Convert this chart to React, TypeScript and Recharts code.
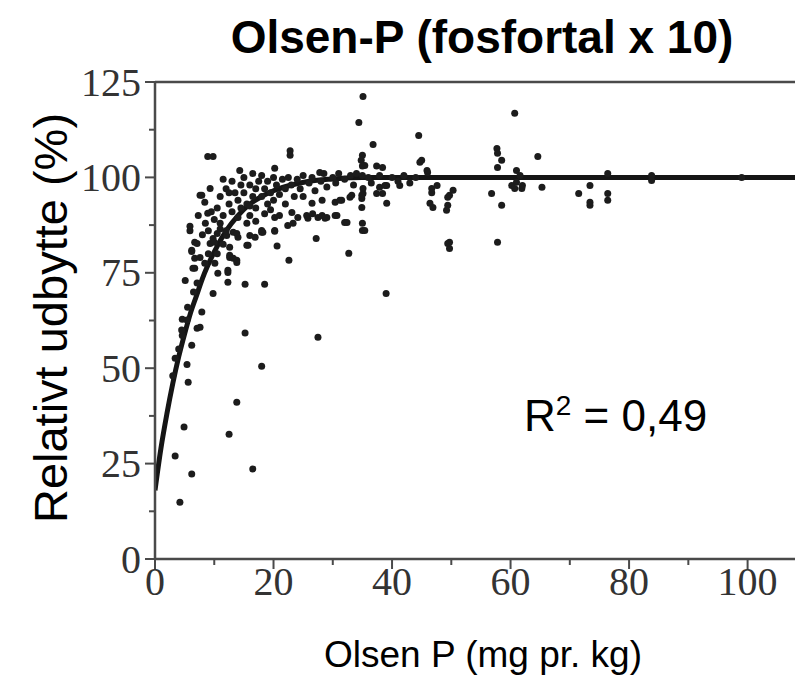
import { ComposedChart, Scatter, Line, XAxis, YAxis, ReferenceLine } from "recharts";

// fitted curve
const curveX = [0, 1, 2, 3, 4, 5, 6, 7, 8, 10, 12, 14, 16, 18, 20, 23, 26, 30, 35, 40, 60, 80, 108];
const curveY = [18, 29, 38, 46, 53, 59, 64.5, 69, 73.5, 80.5, 86, 90, 93, 95, 96.5, 98, 99, 99.6, 100, 100, 100, 100, 100];

// scatter points [Olsen P, relative yield]
const lowPts = [
  [4.2, 14.9], [6.2, 22.3], [16.5, 23.6], [3.4, 27], [12.5, 32.7], [4.9, 34.6], [13.8, 41.1],
  [5.6, 46.3], [18, 50.5], [3.4, 52.6], [5.4, 51], [6.2, 56], [4.6, 58.6], [15.2, 59.2],
  [27.5, 58.1], [7.1, 60.5], [7.6, 60.7], [4.6, 62.8], [5.4, 62.6], [7.9, 64.7], [9.8, 69.6],
  [39, 69.6], [5.1, 73], [7.1, 72.3], [12.3, 72.5], [15.2, 72], [18.5, 72], [4.5, 60], [5.5, 66],
  [6.5, 70], [3, 48], [4, 55],
];

const risingPts = [
  [6.7, 76.2], [6.4, 76.2], [8.4, 77.5], [10.1, 77.5], [10.6, 74.9], [12.3, 75.1], [12.3, 75.7],
  [13.8, 78.3], [12.6, 79], [12.6, 79.6], [13.2, 78.8], [13.8, 77.7], [22.6, 78.3], [6.2, 80.9],
  [6.2, 80.6], [6.7, 78.8], [7.6, 79], [6.7, 83], [7.1, 82.7], [9.3, 82.7], [9.8, 84], [10.5, 85.3],
  [12.1, 84.8], [13.2, 85.6], [14, 84.3], [16, 84.8], [15.7, 82.2], [15.5, 82.2], [12.6, 81.7],
  [20.6, 82], [16.9, 84.3], [18.2, 85.6], [20.2, 85.9], [13.8, 85.3], [27.2, 84], [32.7, 80.1],
  [5.9, 86], [5.9, 87.2], [7.3, 90], [8.9, 90.6], [7.6, 95.3], [8.4, 93.5], [7.9, 95.3], [9.3, 97.1],
  [8, 85], [8.5, 88], [9, 86], [9, 80], [10, 83], [11, 86.5], [11.5, 82.5], [10.5, 80],
  [18, 86.1], [20.2, 86.1], [22.4, 87.4], [20.2, 89.5], [23.3, 88], [18, 85.6],
];

const densePts = [
  [10.5, 92], [11, 95], [11.5, 90], [12, 97], [12.5, 93], [13, 99], [13, 91], [13.5, 96], [14, 94],
  [14.5, 98], [14.5, 92], [15, 100], [15, 96], [15.5, 93], [16, 98], [16, 90], [16.5, 101], [16.5, 95],
  [17, 97], [17, 92], [17.5, 99], [18, 95], [18, 100.5], [18.5, 97], [19, 93], [19, 99], [19.5, 96],
  [20, 100], [20, 94], [20.5, 98], [21, 95.5], [21.5, 99.5], [22, 97], [22, 93], [22.5, 100], [23, 98],
  [23.5, 95], [24, 99.5], [24.5, 97], [25, 100.5], [25, 95], [26, 98.5], [26.5, 100], [27, 96.5],
  [28, 99], [28.5, 101], [29, 97.5], [30, 100], [30.5, 98.5], [31, 101], [32, 99.5], [33, 100.5],
  [33.5, 98], [34, 101], [36, 100], [36.5, 98.5], [11, 88], [12, 86], [10, 89], [9.5, 91], [11.5, 99.5],
  [12.5, 96], [14, 89.5], [15.5, 88], [17, 88.5], [18.5, 90.5], [19.5, 91.5], [21, 90], [16, 92.5],
  [14.3, 101.8], [20.2, 102.4], [27.8, 101.3], [23.1, 90.8], [24.1, 89.5], [25.8, 89.3], [27.5, 89.5],
  [28.7, 89.3], [30.4, 90], [32, 88.2], [25.6, 90], [26.6, 90.5], [28.2, 90], [29, 89.5], [30.7, 90],
  [26.5, 93.2], [28.2, 94], [30.4, 93.5], [31.5, 94], [33.2, 95.3], [34.9, 94.5], [31.2, 94], [32.9, 94.8],
  [32.4, 88.2], [35, 88], [35, 86.1], [35.4, 86.1],
];

const plateauPts = [
  [35.1, 95.8], [34.9, 92.1], [39.1, 93.2], [37.9, 97.4], [38.4, 95.8], [39.1, 97.9], [41.3, 97.9],
  [35, 105.8], [35.4, 103.1], [35, 100.5], [37.4, 103], [37.9, 100.5], [38.4, 102.6], [38.8, 97.9],
  [37.4, 95.8], [35.1, 97.1], [34.9, 95.3], [34.8, 104.5], [35, 103], [40, 100], [41, 99], [42, 100.5],
  [43, 98.5], [44, 100], [44.7, 104], [46, 101.3], [45.9, 101.8], [46.7, 97.1], [47.6, 97.9],
  [49.7, 95.3], [46.4, 93.2], [49.4, 92.7], [46.7, 96], [46.9, 92.1], [49.2, 91.4], [49.4, 94.8],
  [50.3, 96.6], [49.7, 83], [49.7, 81.4], [49.4, 82.7], [57.7, 107.6], [57.8, 106.3], [58.5, 104.5],
  [57.8, 102.6], [64.6, 105.5], [61, 101.8], [61.6, 100.5], [60.7, 97.1], [61.9, 97.1], [62, 97.9],
  [60.2, 97.9], [61, 98.7], [65.3, 97.4], [56.8, 95.8], [58.5, 92.7], [57.8, 83], [71.5, 95.8],
  [73.4, 97.9], [73.4, 93.5], [73.4, 92.7], [76.4, 101], [76.4, 95.8], [76.4, 94], [83.8, 100.5],
  [83.8, 99.2], [99, 100],
];

const highPts = [
  [35.1, 121.2], [34.4, 114.4], [36.8, 108.6], [44.5, 111], [45, 104.5], [8.9, 105.5], [9.8, 105.5],
  [22.8, 107], [22.8, 105.8], [60.7, 116.8],
];

const yTicks = [0, 12.5, 25, 37.5, 50, 62.5, 75, 87.5, 100, 112.5, 125];
const xTicks = [0, 10, 20, 30, 40, 50, 60, 70, 80, 90, 100];

const curve = curveX.map((x, i) => ({ x: x, y: curveY[i] }));
const points = [...lowPts, ...risingPts, ...densePts, ...plateauPts, ...highPts].map(([x, y]) => ({ x, y }));

const axisColor = "#4a4a4a";
const serif = "'Liberation Serif', 'Times New Roman', serif";
const sans = "'Liberation Sans', Arial, sans-serif";

const YTick = (props: any) => {
  const { x, y, payload } = props;
  const major = payload.value % 25 === 0;
  return (
    <g>
      <line x1={x - (major ? 10 : 6)} x2={x} y1={y} y2={y} stroke={axisColor} strokeWidth={2} />
      {major && (
        <text x={x - 14} y={y} textAnchor="end" dominantBaseline="central" fontFamily={serif} fontSize={40} fill="#333">
          {payload.value}
        </text>
      )}
    </g>
  );
};

const XTick = (props: any) => {
  const { x, y, payload } = props;
  const major = payload.value % 20 === 0;
  return (
    <g>
      <line x1={x} x2={x} y1={y} y2={y + (major ? 10 : 6)} stroke={axisColor} strokeWidth={2} />
      {major && (
        <text x={x} y={y + 36} textAnchor="middle" fontFamily={serif} fontSize={40} fill="#333">
          {payload.value}
        </text>
      )}
    </g>
  );
};

const Dot = (props: any) => <circle cx={props.cx} cy={props.cy} r={3.5} fill="#1c1c1c" />;

export default function App() {
  return (
    <div style={{ position: "absolute", left: 0, top: 0, width: 795, height: 696, background: "#fff" }}>
      <ComposedChart width={795} height={696} margin={{ top: 82, right: 0, bottom: 77, left: 0 }}>
        <XAxis
          dataKey="x"
          type="number"
          domain={[0, 108]}
          ticks={xTicks}
          tick={<XTick />}
          tickLine={false}
          tickSize={0}
          tickMargin={0}
          height={60}
          axisLine={{ stroke: axisColor, strokeWidth: 2.5 }}
          allowDataOverflow
        />
        <YAxis
          dataKey="y"
          type="number"
          domain={[0, 125]}
          ticks={yTicks}
          tick={<YTick />}
          tickLine={false}
          tickSize={0}
          tickMargin={0}
          width={155}
          axisLine={{ stroke: axisColor, strokeWidth: 2.5 }}
          allowDataOverflow
        />
        <ReferenceLine y={125} stroke={axisColor} strokeWidth={2.5} />
        <Scatter data={points} shape={<Dot />} isAnimationActive={false} />
        <Line data={curve} dataKey="y" type="monotone" dot={false} stroke="#151515" strokeWidth={5} isAnimationActive={false} />
      </ComposedChart>
      <div style={{ position: "absolute", left: 0, width: 964, top: 10, textAlign: "center", fontFamily: sans, fontWeight: "bold", fontSize: 46, color: "#000" }}>
        Olsen-P (fosfortal x 10)
      </div>
      <div style={{ position: "absolute", left: 50, top: 318, width: 0, height: 0 }}>
        <div style={{ position: "absolute", transform: "translate(-50%, -50%) rotate(-90deg)", whiteSpace: "nowrap", fontFamily: sans, fontSize: 47, color: "#000" }}>
          Relativt udbytte (%)
        </div>
      </div>
      <div style={{ position: "absolute", left: 0, width: 966, top: 634, textAlign: "center", fontFamily: sans, fontSize: 37, color: "#000" }}>
        Olsen P (mg pr. kg)
      </div>
      <div style={{ position: "absolute", left: 524, top: 390, fontFamily: sans, fontSize: 44, color: "#000", whiteSpace: "nowrap" }}>
        R<sup style={{ fontSize: 28, verticalAlign: "16px" }}>2</sup> = 0,49
      </div>
    </div>
  );
}
